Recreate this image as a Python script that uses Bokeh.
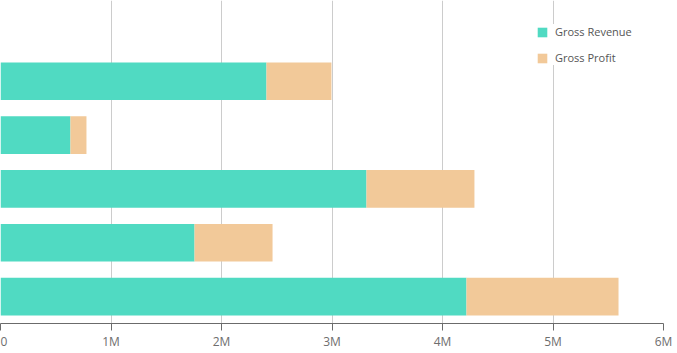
from bokeh.plotting import figure
from bokeh.models import ColumnDataSource, Legend, LegendItem, FixedTicker, CustomJSTickFormatter
from bokeh.embed import file_html
from bokeh.resources import INLINE

categories = ["Cat 1", "Cat 2", "Cat 3", "Cat 4", "Cat 5"]
gross_revenue = [2.407e6, 0.633e6, 3.312e6, 1.756e6, 4.217e6]
gross_profit = [0.588e6, 0.145e6, 0.977e6, 0.706e6, 1.376e6]
tick_values = [0, 1e6, 2e6, 3e6, 4e6, 5e6, 6e6]

n = len(categories)
ypos = [n - i for i in range(n)]  # first category on top

source = ColumnDataSource(dict(y=ypos, cat=categories, rev=gross_revenue, profit=gross_profit))

p = figure(width=677, height=353, x_range=(0, 6e6), y_range=(0.5, 6.5),
           output_backend="svg", toolbar_location=None,
           min_border_left=0, min_border_right=14, min_border_top=0, min_border_bottom=30)
p.outline_line_color = None
p.background_fill_color = "white"
p.border_fill_color = "white"

renderers = p.hbar_stack(["rev", "profit"], y="y", height=0.7, source=source,
                         color=["#50DAC2", "#F2C999"], line_color=None)

p.yaxis.visible = False
p.ygrid.grid_line_color = None
p.xgrid.grid_line_color = "#CCCCCC"
p.xgrid.ticker = FixedTicker(ticks=tick_values)

xa = p.xaxis[0]
xa.ticker = FixedTicker(ticks=tick_values)
xa.formatter = CustomJSTickFormatter(code="return tick == 0 ? '0' : (tick/1e6) + 'M';")
xa.axis_line_color = "#6B6B6B"
xa.major_tick_line_color = "#6B6B6B"
xa.major_tick_out = 7
xa.major_tick_in = 0
xa.minor_tick_line_color = None
xa.major_label_text_font = "Open Sans"
xa.major_label_text_font_size = "12px"
xa.major_label_text_color = "#6E6E6E"
xa.major_label_standoff = 2

legend = Legend(items=[LegendItem(label="Gross Revenue", renderers=[renderers[0]]),
                       LegendItem(label="Gross Profit", renderers=[renderers[1]])],
                location=(536, 258), orientation="vertical")
legend.glyph_width = 12
legend.glyph_height = 12
legend.label_standoff = 7
legend.spacing = 11
legend.padding = 0
legend.margin = 0
legend.border_line_color = None
legend.background_fill_alpha = 1.0
legend.background_fill_color = "white"
legend.label_text_font = "Open Sans"
legend.label_text_font_size = "11px"
legend.label_text_color = "#555555"
p.add_layout(legend)

open("out.html", "w").write(file_html(p, INLINE))
